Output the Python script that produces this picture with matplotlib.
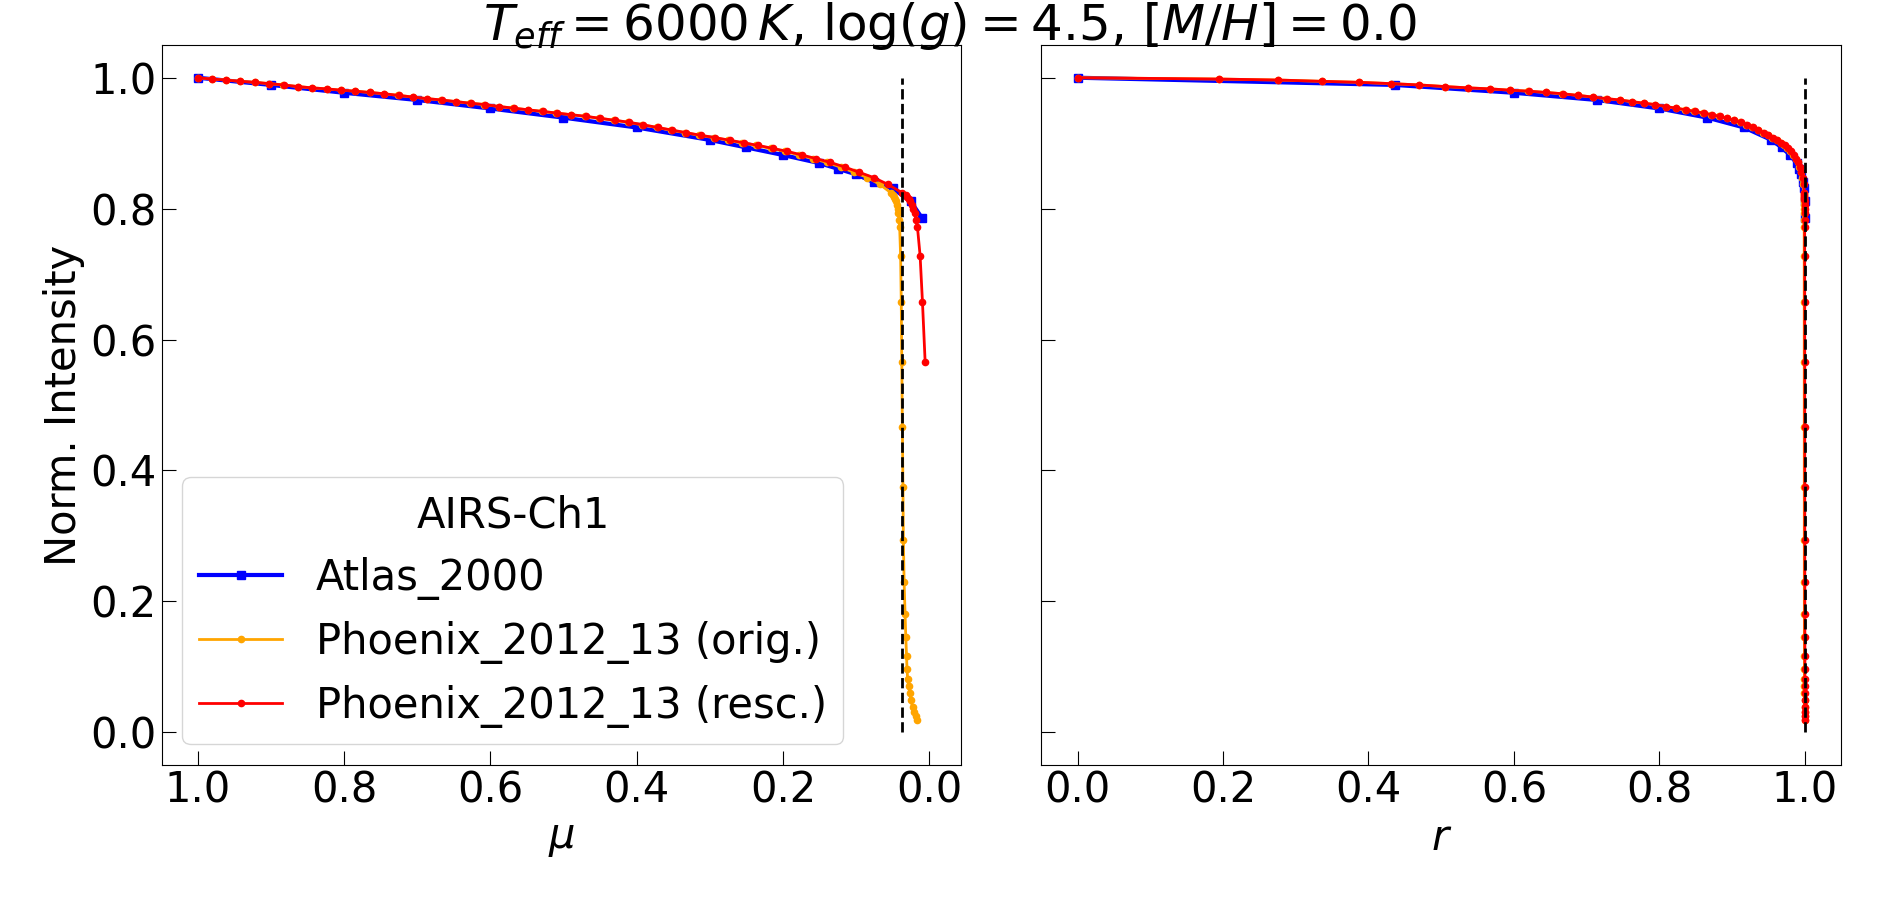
import numpy as np
import matplotlib
matplotlib.use('Agg')
import matplotlib.pyplot as plt

# Atlas 2000 intensities (17 mu points)
atlas_mu = [1.0, 0.9, 0.8, 0.7, 0.6, 0.5, 0.4, 0.3, 0.25, 0.2, 0.15, 0.125, 0.1, 0.075, 0.05, 0.025, 0.01]
atlas_int = [1.0, 0.989, 0.977, 0.966, 0.953, 0.939, 0.924, 0.905, 0.8935, 0.882, 0.8695, 0.861, 0.8525,
             0.840, 0.831, 0.811, 0.786]

# Phoenix 2012/13 original mu grid and intensities (78 points)
phx_mu = [1.0, 0.9810, 0.9614, 0.9417, 0.9220, 0.9025, 0.8828, 0.8631, 0.8435, 0.8238,
          0.8043, 0.7846, 0.7649, 0.7453, 0.7256, 0.7061, 0.6864, 0.6667, 0.6472, 0.6275,
          0.6079, 0.5883, 0.5686, 0.5490, 0.5294, 0.5097, 0.4902, 0.4706, 0.4510, 0.4314,
          0.4118, 0.3923, 0.3727, 0.3532, 0.3336, 0.3140, 0.2945, 0.2750, 0.2556, 0.2361,
          0.2167, 0.1973, 0.1780, 0.1589, 0.1398, 0.1209, 0.1025, 0.0844, 0.0673, 0.0520,
          0.0490, 0.0475, 0.0462, 0.0450, 0.0440, 0.0430, 0.0420, 0.0411, 0.0403, 0.0390,
          0.0381, 0.0374, 0.0366, 0.0358, 0.0352, 0.0342, 0.0329, 0.0319, 0.0309, 0.0302,
          0.0294, 0.0282, 0.0264, 0.0251, 0.0227, 0.0205, 0.0182, 0.0159]
phx_int = [1.000, 0.998, 0.9965, 0.9945, 0.993, 0.991, 0.989, 0.9865, 0.9845, 0.983,
           0.981, 0.9795, 0.9775, 0.9755, 0.973, 0.9705, 0.968, 0.966, 0.9635, 0.961,
           0.959, 0.956, 0.9535, 0.951, 0.9485, 0.946, 0.9435, 0.941, 0.938, 0.935,
           0.932, 0.928, 0.924, 0.920, 0.916, 0.912, 0.9085, 0.9045, 0.9005, 0.8965,
           0.892, 0.8875, 0.882, 0.8765, 0.8705, 0.8635, 0.8555, 0.8475, 0.837, 0.824,
           0.821, 0.818, 0.815, 0.811, 0.806, 0.800, 0.793, 0.783, 0.772, 0.728,
           0.657, 0.566, 0.467, 0.375, 0.294, 0.230, 0.181, 0.145, 0.117, 0.096,
           0.082, 0.070, 0.060, 0.049, 0.039, 0.0315, 0.025, 0.019]

mu_cut = 0.037      # new limb position used for rescaling

atlas_mu = np.array(atlas_mu)
atlas_int = np.array(atlas_int)
phx_mu = np.array(phx_mu)
phx_int = np.array(phx_int)

# radius on the disc, rescaled so that mu_cut sits at r = 1
atlas_r = np.sqrt(1 - atlas_mu**2)
phx_r = np.sqrt(1 - phx_mu**2)
phx_r_resc = phx_r / np.sqrt(1 - mu_cut**2)
inside = phx_r_resc <= 1.0
phx_mu_resc = np.sqrt(1 - phx_r_resc[inside]**2)

fig, (ax1, ax2) = plt.subplots(1, 2, figsize=(19, 9), dpi=100, sharey=True)
fig.subplots_adjust(left=0.085, right=0.969, bottom=0.15, top=0.95, wspace=0.1)

ax1.plot(atlas_mu, atlas_int, 's-', color='blue', lw=3, ms=6, label='Atlas_2000')
ax1.plot(phx_mu, phx_int, '.-', color='orange', lw=2, ms=9, label='Phoenix_2012_13 (orig.)')
ax1.plot(phx_mu_resc, phx_int[inside], '.-', color='red', lw=2, ms=9, label='Phoenix_2012_13 (resc.)')
ax1.vlines(mu_cut, 0, 1, colors='k', linestyles='--', lw=2, zorder=3)
ax1.set_xlim(1.0495, -0.0440)
ax1.set_ylim(-0.05, 1.05)
ax1.set_xlabel(r'$\mu$', fontsize=30)
ax1.set_ylabel('Norm. Intensity', fontsize=30)
ax1.legend(loc='lower left', title='AIRS-Ch1', fontsize=30, title_fontsize=30)

ax2.plot(atlas_r, atlas_int, 's-', color='blue', lw=3, ms=6)
ax2.plot(phx_r, phx_int, '.-', color='orange', lw=2, ms=9)
ax2.plot(phx_r_resc, phx_int, '.-', color='red', lw=2, ms=9)
ax2.vlines(1.0, 0, 1, colors='k', linestyles='--', lw=2, zorder=3)
ax2.set_xlim(-0.05, 1.05)
ax2.set_xlabel(r'$r$', fontsize=30)

for ax in (ax1, ax2):
    ax.set_xticks([0.0, 0.2, 0.4, 0.6, 0.8, 1.0])
    ax.set_yticks([0.0, 0.2, 0.4, 0.6, 0.8, 1.0])
    ax.tick_params(direction='in', length=10, labelsize=30)

fig.suptitle(r'$T_{eff} = 6000\,K$, $\log(g) = 4.5$, $[M/H] = 0.0$', fontsize=36, y=1.0)

fig.savefig('out.png')
